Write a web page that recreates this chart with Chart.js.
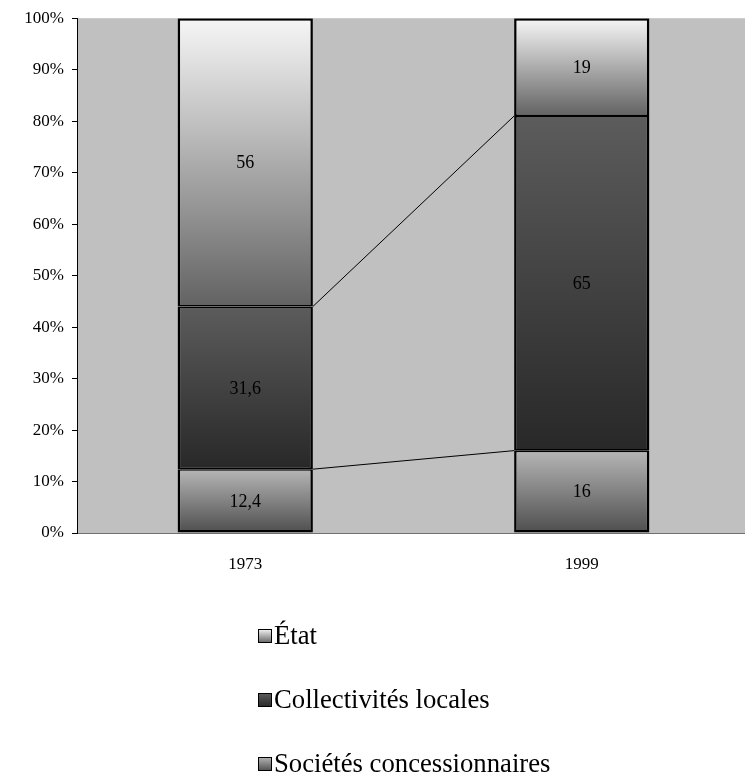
<!DOCTYPE html>
<html>
<head>
<meta charset="utf-8">
<script src="https://cdn.jsdelivr.net/npm/chart.js@4"></script>
<style>
  html, body { margin: 0; padding: 0; background: #ffffff; overflow: hidden; }
  #wrap { width: 745px; height: 773px; position: relative; overflow: hidden; }
  #c { position: absolute; left: 0; top: 0; }
</style>
</head>
<body>
<div id="wrap"><canvas id="c" width="750" height="773"></canvas></div>
<script>
// Categories and stacked shares (percent of total)
const years = ['1973', '1999'];
const societes = [12.4, 16];
const collectivites = [31.6, 65];
const etat = [56, 19];
const valueLabels = {
  societes: ['12,4', '16'],
  collectivites: ['31,6', '65'],
  etat: ['56', '19']
};
const seriesNames = ['Sociétés concessionnaires', 'Collectivités locales', 'État'];
const yTicks = [0, 10, 20, 30, 40, 50, 60, 70, 80, 90, 100];

const FONT = '"Liberation Serif", "Times New Roman", serif';

// Vertical gradient stops (top colour, bottom colour) for each series
const shades = [
  ['#b6b6b6', '#4e4e4e'], // Sociétés concessionnaires
  ['#5c5c5c', '#282828'], // Collectivités locales
  ['#f6f6f6', '#626262']  // État
];

function segmentGradient(ctx, dsIndex) {
  const chart = ctx.chart;
  const area = chart.chartArea;
  if (!area || ctx.type !== 'data') return shades[dsIndex][0];
  const y = chart.scales.y;
  let base = 0;
  for (let i = 0; i < dsIndex; i++) base += chart.data.datasets[i].data[ctx.dataIndex];
  const top = base + chart.data.datasets[dsIndex].data[ctx.dataIndex];
  const yTop = y.getPixelForValue(top);
  const yBot = y.getPixelForValue(base);
  const g = chart.ctx.createLinearGradient(0, yTop, 0, yBot);
  g.addColorStop(0, shades[dsIndex][0]);
  g.addColorStop(1, shades[dsIndex][1]);
  return g;
}

// Outer edges of a stack get a full border, shared edges split between the two segments
function segmentBorder(idx, count) {
  return {
    left: 2.5,
    right: 2.5,
    top: idx === count - 1 ? 2.5 : 1.6,
    bottom: idx === 0 ? 2.5 : 1.6
  };
}

function makeDataset(label, data, idx, texts) {
  return {
    label: label,
    data: data,
    texts: texts,
    backgroundColor: (c) => segmentGradient(c, idx),
    borderColor: '#000000',
    borderWidth: segmentBorder(idx, 3),
    borderSkipped: false,
    barPercentage: 0.402,
    categoryPercentage: 1.0
  };
}

// Plot background
const plotBackground = {
  id: 'plotBackground',
  beforeDraw(chart) {
    const { ctx, chartArea: a } = chart;
    ctx.save();
    ctx.fillStyle = '#c0c0c0';
    ctx.fillRect(a.left, a.top, a.right - a.left, a.bottom - a.top);
    ctx.restore();
  }
};

// Series lines joining the top of each segment between the two bars
const seriesLines = {
  id: 'seriesLines',
  afterDatasetsDraw(chart) {
    const { ctx } = chart;
    ctx.save();
    ctx.strokeStyle = '#000000';
    ctx.lineWidth = 1;
    for (let d = 0; d < 2; d++) {
      const meta = chart.getDatasetMeta(d);
      const a = meta.data[0], b = meta.data[1];
      ctx.beginPath();
      ctx.moveTo(a.x + a.width / 2, a.y);
      ctx.lineTo(b.x - b.width / 2, b.y);
      ctx.stroke();
    }
    ctx.restore();
  }
};

// Value labels centred in each segment
const segmentLabels = {
  id: 'segmentLabels',
  afterDatasetsDraw(chart) {
    const { ctx } = chart;
    ctx.save();
    ctx.font = '18px ' + FONT;
    ctx.fillStyle = '#000000';
    ctx.textAlign = 'center';
    ctx.textBaseline = 'middle';
    chart.data.datasets.forEach((ds, d) => {
      chart.getDatasetMeta(d).data.forEach((bar, i) => {
        ctx.fillText(ds.texts[i], bar.x, (bar.y + bar.base) / 2 + 1);
      });
    });
    ctx.restore();
  }
};

// Vertical legend under the plot, top series first
const stackedLegend = {
  id: 'stackedLegend',
  afterDraw(chart) {
    const { ctx } = chart;
    const rows = [636, 700, 764];
    const boxX = 258, box = 14;
    ctx.save();
    ctx.font = '26.7px ' + FONT;
    ctx.textBaseline = 'middle';
    ctx.textAlign = 'left';
    for (let r = 0; r < 3; r++) {
      const d = 2 - r;
      const yc = rows[r];
      const g = ctx.createLinearGradient(0, yc - box / 2, 0, yc + box / 2);
      g.addColorStop(0, shades[d][0]);
      g.addColorStop(1, shades[d][1]);
      ctx.fillStyle = g;
      ctx.fillRect(boxX, yc - box / 2, box, box);
      ctx.strokeStyle = '#000000';
      ctx.lineWidth = 1;
      ctx.strokeRect(boxX + 0.5, yc - box / 2 + 0.5, box - 1, box - 1);
      ctx.fillStyle = '#000000';
      ctx.fillText(chart.data.datasets[d].label, boxX + box + 2, yc + 1);
    }
    ctx.restore();
  }
};

new Chart(document.getElementById('c'), {
  type: 'bar',
  data: {
    labels: years,
    datasets: [
      makeDataset(seriesNames[0], societes, 0, valueLabels.societes),
      makeDataset(seriesNames[1], collectivites, 1, valueLabels.collectivites),
      makeDataset(seriesNames[2], etat, 2, valueLabels.etat)
    ]
  },
  options: {
    responsive: false,
    animation: false,
    devicePixelRatio: 1,
    layout: { padding: { top: 18, right: 0, bottom: 190, left: 0 } },
    plugins: {
      legend: { display: false },
      tooltip: { enabled: false }
    },
    scales: {
      x: {
        stacked: true,
        grid: { display: false, drawTicks: false },
        border: { display: true, color: '#707070', width: 1 },
        ticks: {
          color: '#000000',
          font: { family: FONT, size: 17 },
          padding: 21
        },
        afterFit(scale) { scale.height = 50; }
      },
      y: {
        stacked: true,
        min: 0,
        max: 100,
        afterBuildTicks(scale) { scale.ticks = yTicks.map(v => ({ value: v })); },
        grid: {
          drawOnChartArea: false,
          drawTicks: true,
          tickLength: 5,
          color: '#000000'
        },
        border: { display: true, color: '#000000', width: 1 },
        ticks: {
          color: '#000000',
          font: { family: FONT, size: 17 },
          padding: 8,
          callback: (v) => v + '%'
        },
        afterFit(scale) { scale.width = 77; }
      }
    }
  },
  plugins: [plotBackground, seriesLines, segmentLabels, stackedLegend]
});
</script>
</body>
</html>
